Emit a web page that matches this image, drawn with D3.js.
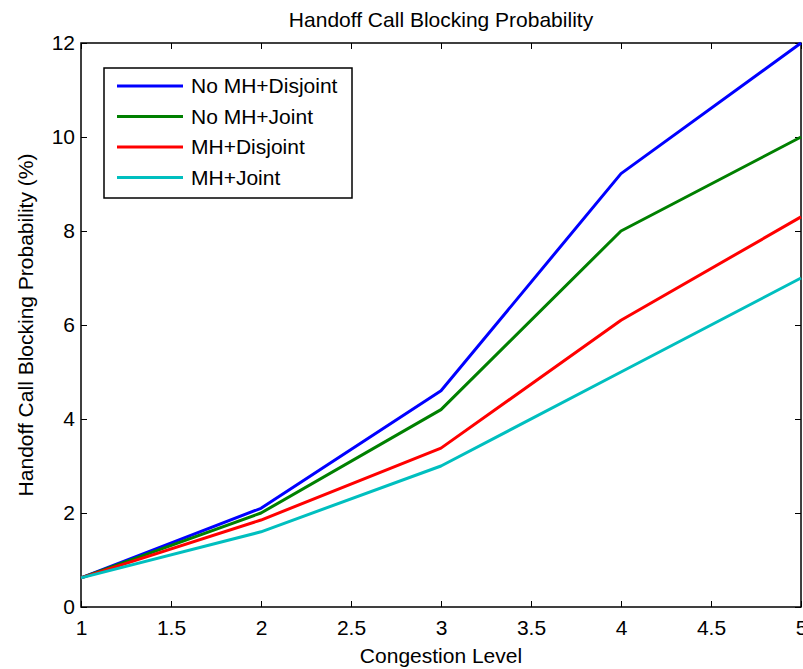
<!DOCTYPE html>
<html>
<head>
<meta charset="utf-8">
<script src="https://cdn.jsdelivr.net/npm/d3@7"></script>
<style>
  body { margin: 0; background: #fff; }
  svg text { font-family: "Liberation Sans", Arial, sans-serif; fill: #000; }
</style>
</head>
<body>
<div id="chart"></div>
<script>
// data
var congestion = [1, 2, 3, 4, 5];
var noMhDisjoint = [0.62, 2.1, 4.6, 9.22, 12.0];
var noMhJoint = [0.62, 2.0, 4.2, 8.0, 10.0];
var mhDisjoint = [0.62, 1.85, 3.38, 6.1, 8.3];
var mhJoint = [0.62, 1.6, 3.0, 5.0, 7.0];
var seriesNames = ["No MH+Disjoint", "No MH+Joint", "MH+Disjoint", "MH+Joint"];
var seriesColors = ["#0000ff", "#008000", "#ff0000", "#00bfbf"];
var xTicks = [1, 1.5, 2, 2.5, 3, 3.5, 4, 4.5, 5];
var yTicks = [0, 2, 4, 6, 8, 10, 12];

var series = [noMhDisjoint, noMhJoint, mhDisjoint, mhJoint];

// dimensions
var totalWidth = 803, totalHeight = 669;
var margin = {top: 43, right: 2, bottom: 62, left: 81},
    width = totalWidth - margin.left - margin.right,
    height = totalHeight - margin.top - margin.bottom;
var fontSize = 21;

var svg = d3.select("#chart")
  .append("svg")
    .attr("width", totalWidth)
    .attr("height", totalHeight)
  .append("g")
    .attr("transform", "translate(" + margin.left + "," + margin.top + ")");

var x = d3.scaleLinear().domain([1, 5]).range([0, width]);
var y = d3.scaleLinear().domain([0, 12]).range([height, 0]);

// axes, ticks inward like matlab
function styleAxis(g) {
  g.select(".domain").remove();
  g.selectAll(".tick line").attr("stroke", "#000").attr("stroke-width", 1);
  g.selectAll("text").style("font-size", fontSize + "px");
}

svg.append("g")
  .attr("transform", "translate(0," + height + ")")
  .call(d3.axisBottom(x).tickValues(xTicks).tickFormat(d3.format("")).tickSizeInner(-6).tickPadding(13))
  .call(styleAxis);

svg.append("g")
  .call(d3.axisTop(x).tickValues(xTicks).tickFormat("").tickSizeInner(-6))
  .call(styleAxis);

svg.append("g")
  .call(d3.axisLeft(y).tickValues(yTicks).tickFormat(d3.format("")).tickSizeInner(-6).tickPadding(6))
  .call(styleAxis);

svg.append("g")
  .attr("transform", "translate(" + width + ",0)")
  .call(d3.axisRight(y).tickValues(yTicks).tickFormat("").tickSizeInner(-6))
  .call(styleAxis);

// box
svg.append("rect")
  .attr("x", 0).attr("y", 0)
  .attr("width", width).attr("height", height)
  .attr("fill", "none")
  .attr("stroke", "#000")
  .attr("stroke-width", 1.5);

// lines
var line = d3.line()
  .x(function(d, i) { return x(congestion[i]); })
  .y(function(d) { return y(d); });

svg.selectAll(".series")
  .data(series)
  .enter()
  .append("path")
    .attr("class", "series")
    .attr("d", line)
    .attr("fill", "none")
    .attr("stroke", function(d, i) { return seriesColors[i]; })
    .attr("stroke-width", 3)
    .attr("stroke-linejoin", "round");

// title and labels
svg.append("text")
  .attr("x", width / 2).attr("y", -16)
  .attr("text-anchor", "middle")
  .style("font-size", fontSize + "px")
  .text("Handoff Call Blocking Probability");

svg.append("text")
  .attr("x", width / 2).attr("y", height + 56)
  .attr("text-anchor", "middle")
  .style("font-size", fontSize + "px")
  .text("Congestion Level");

svg.append("text")
  .attr("transform", "translate(-48," + (height / 2) + ")rotate(-90)")
  .attr("text-anchor", "middle")
  .style("font-size", fontSize + "px")
  .text("Handoff Call Blocking Probability (%)");

// legend
var legend = svg.append("g").attr("transform", "translate(23,25)");
legend.append("rect")
  .attr("width", 248).attr("height", 130)
  .attr("fill", "#fff")
  .attr("stroke", "#000")
  .attr("stroke-width", 1.5);

var item = legend.selectAll(".item")
  .data(seriesNames)
  .enter()
  .append("g")
    .attr("transform", function(d, i) { return "translate(0," + (18 + i * 30.5) + ")"; });

item.append("line")
  .attr("x1", 13).attr("x2", 79)
  .attr("stroke", function(d, i) { return seriesColors[i]; })
  .attr("stroke-width", 3);

item.append("text")
  .attr("x", 87).attr("y", 7)
  .style("font-size", fontSize + "px")
  .text(function(d) { return d; });
</script>
</body>
</html>
